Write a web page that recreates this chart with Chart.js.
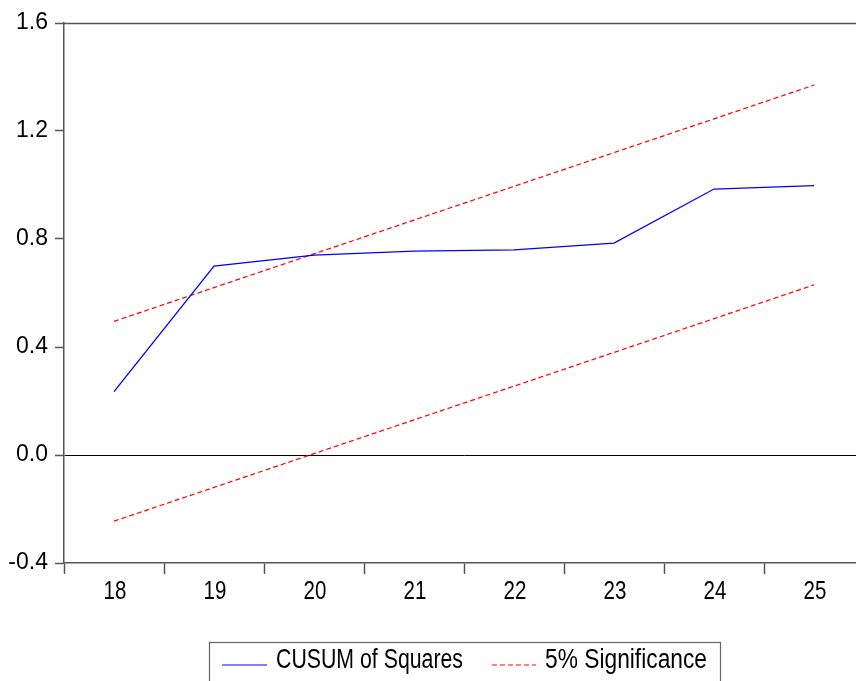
<!DOCTYPE html>
<html>
<head>
<meta charset="utf-8">
<script src="https://cdn.jsdelivr.net/npm/chart.js@4"></script>
<style>
html,body{margin:0;padding:0;background:#fff;overflow:hidden;}
#wrap{position:relative;width:866px;height:681px;}
</style>
</head>
<body>
<div id="wrap"><canvas id="c" width="866" height="681" style="width:866px;height:681px"></canvas></div>
<script>
const categories = ["18","19","20","21","22","23","24","25"];
const cusumSq = [0.235, 0.700, 0.740, 0.755, 0.760, 0.785, 0.985, 0.998];
const upper5 = [0.495, 0.620, 0.745, 0.870, 0.995, 1.120, 1.245, 1.370];
const lower5 = [-0.245, -0.120, 0.005, 0.130, 0.255, 0.380, 0.505, 0.630];
const yTicks = [-0.4, 0.0, 0.4, 0.8, 1.2, 1.6];
const legendLabels = ["CUSUM of Squares", "5% Significance"];

const FONT = "'Liberation Sans', Arial, sans-serif";
const AXIS = "#555555";
const STRETCH = 1.3;

function tallText(ctx, text, x, y, size, align, targetW) {
  ctx.save();
  ctx.font = size + "px " + FONT;
  ctx.textAlign = align;
  ctx.textBaseline = "middle";
  let sx = 1;
  if (targetW) { sx = targetW / ctx.measureText(text).width; }
  ctx.translate(x, y);
  ctx.scale(sx, STRETCH);
  ctx.fillText(text, 0, 0);
  ctx.restore();
}

const frame = {
  id: 'frame',
  afterDraw(chart) {
    const {ctx, chartArea: a} = chart;
    ctx.save();
    ctx.strokeStyle = AXIS;
    ctx.lineWidth = 1.5;
    ctx.beginPath();
    ctx.moveTo(a.left, a.top + 0.5);
    ctx.lineTo(a.right + 5, a.top + 0.5);
    ctx.stroke();
    // x category labels
    const xs = chart.scales.x;
    ctx.fillStyle = "#000";
    xs.ticks.forEach((t, i) => {
      tallText(ctx, xs.getLabelForValue(t.value), xs.getPixelForTick(i) + 1, 592, 20.5, "center");
    });
    // legend
    const bx = 209.5, by = 642.5, bw = 511, bh = 60;
    ctx.strokeStyle = "#666";
    ctx.lineWidth = 1.2;
    ctx.strokeRect(bx, by, bw, bh);
    ctx.lineWidth = 1.2;
    ctx.strokeStyle = "#0000ff";
    ctx.beginPath(); ctx.moveTo(222, 665); ctx.lineTo(267, 665); ctx.stroke();
    ctx.strokeStyle = "#ff0000";
    ctx.setLineDash([5, 3]);
    ctx.beginPath(); ctx.moveTo(492, 665); ctx.lineTo(536, 665); ctx.stroke();
    ctx.setLineDash([]);
    ctx.fillStyle = "#000";
    tallText(ctx, legendLabels[0], 276, 660, 21, "left", 187);
    tallText(ctx, legendLabels[1], 545, 660, 21, "left", 162);
    ctx.restore();
  }
};

new Chart(document.getElementById('c'), {
  type: 'line',
  data: {
    labels: categories,
    datasets: [
      {label: legendLabels[0], data: cusumSq, borderColor: '#0000ff', borderWidth: 1.3, pointRadius: 0, tension: 0, fill: false},
      {label: legendLabels[1], data: upper5, borderColor: '#ff0000', borderWidth: 1.2, borderDash: [5, 3], pointRadius: 0, tension: 0, fill: false},
      {label: legendLabels[1] + ' (lower)', data: lower5, borderColor: '#ff0000', borderWidth: 1.2, borderDash: [5, 3], pointRadius: 0, tension: 0, fill: false}
    ]
  },
  options: {
    responsive: false,
    animation: false,
    devicePixelRatio: 1,
    layout: {padding: {top: 23, right: 2, bottom: 0, left: 0}},
    plugins: {legend: {display: false}, tooltip: {enabled: false}},
    scales: {
      x: {
        offset: true,
        grid: {display: true, offset: true, drawOnChartArea: false, drawTicks: true, tickLength: 11, tickColor: AXIS, tickWidth: 1.5},
        border: {display: true, color: AXIS, width: 1.5},
        ticks: {display: false},
        afterFit: s => { s.height = 118; }
      },
      y: {
        min: -0.4, max: 1.6,
        afterBuildTicks: s => { s.ticks = yTicks.map(v => ({value: v})); },
        grid: {
          display: true, drawTicks: true, tickLength: 9, tickWidth: 1.5, tickColor: AXIS,
          color: c => (c.tick && Math.abs(c.tick.value) < 1e-9) ? '#000' : 'rgba(0,0,0,0)',
          lineWidth: 1
        },
        border: {display: true, color: AXIS, width: 1.5},
        ticks: {color: '#000', font: {family: FONT, size: 23}, padding: 7, callback: v => Number(v).toFixed(1)},
        afterFit: s => { s.width = 64; }
      }
    }
  },
  plugins: [frame]
});
</script>
</body>
</html>
